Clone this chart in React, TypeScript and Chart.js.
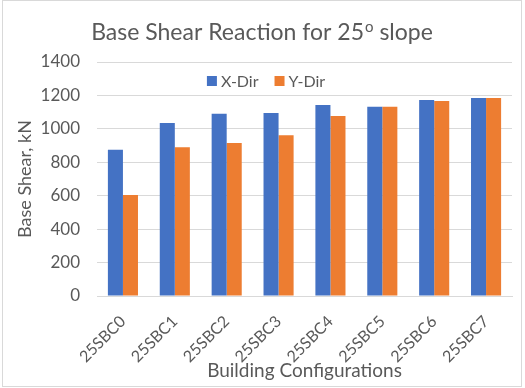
import React, { useEffect, useRef } from "react";
import { Chart, registerables } from "chart.js";

Chart.register(...registerables);

const categories = ["25SBC0", "25SBC1", "25SBC2", "25SBC3", "25SBC4", "25SBC5", "25SBC6", "25SBC7"];
const xDir = [875, 1035, 1090, 1095, 1142, 1132, 1172, 1185];
const yDir = [605, 890, 915, 962, 1077, 1132, 1167, 1185];
const seriesNames = ["X-Dir", "Y-Dir"];
const titleMain = "Base Shear Reaction for 25";
const titleSup = "o";
const titleEnd = " slope";
const yTitle = "Base Shear, kN";
const xTitle = "Building Configurations";

const BLUE = "#4472C4";
const ORANGE = "#ED7D31";
const GRID = "#D9D9D9";
const TEXT = "#595959";
const FAMILY = "Lato, 'Open Sans', sans-serif";

const framePlugin = {
  id: "frame",
  beforeDraw(chart: any) {
    const c = chart.ctx;
    c.save();
    c.fillStyle = "#ffffff";
    c.fillRect(0, 0, chart.width, chart.height);
    c.strokeStyle = GRID;
    c.lineWidth = 1;
    c.strokeRect(2.5, 0.5, chart.width - 6, chart.height - 2);
    c.restore();
  },
};

const titlePlugin = {
  id: "customTitle",
  afterDraw(chart: any) {
    const c = chart.ctx;
    c.save();
    c.fillStyle = TEXT;
    c.textBaseline = "alphabetic";
    c.textAlign = "left";
    const big = `23px ${FAMILY}`;
    const small = `15px ${FAMILY}`;
    c.font = big;
    const w1 = c.measureText(titleMain).width;
    const w3 = c.measureText(titleEnd).width;
    c.font = small;
    const w2 = c.measureText(titleSup).width;
    const total = w1 + w2 + w3 + 1;
    let x = 262 - total / 2;
    const base = 40;
    c.font = big;
    c.fillText(titleMain, x, base);
    x += w1;
    c.font = small;
    c.fillText(titleSup, x + 1, base - 8);
    x += w2 + 1;
    c.font = big;
    c.fillText(titleEnd, x, base);
    c.restore();
  },
};

const legendPlugin = {
  id: "customLegend",
  afterDraw(chart: any) {
    const c = chart.ctx;
    c.save();
    c.font = `16px ${FAMILY}`;
    c.textBaseline = "middle";
    c.textAlign = "left";
    const box = 10;
    const gapText = 4;
    const gapItem = 16;
    const widths = seriesNames.map((n) => c.measureText(n).width);
    const total = widths.reduce((a, w) => a + box + gapText + w, 0) + gapItem * (seriesNames.length - 1);
    let x = 266 - total / 2;
    const cy = 81;
    chart.data.datasets.forEach((ds: any, i: number) => {
      c.fillStyle = ds.backgroundColor;
      c.fillRect(x, cy - box / 2, box, box);
      c.fillStyle = TEXT;
      c.fillText(seriesNames[i], x + box + gapText, cy + 1);
      x += box + gapText + widths[i] + gapItem;
    });
    c.restore();
  },
};

export default function App() {
  const ref = useRef<HTMLCanvasElement>(null);
  useEffect(() => {
    document.body.style.margin = "0";
    const canvas = ref.current!;
    const chart = new Chart(canvas, {
      type: "bar",
      data: {
        labels: categories,
        datasets: [
          { label: seriesNames[0], data: xDir, backgroundColor: BLUE },
          { label: seriesNames[1], data: yDir, backgroundColor: ORANGE },
        ],
      },
      options: {
        animation: false,
        responsive: false,
        devicePixelRatio: 1,
        layout: { padding: { top: 62, right: 13, left: 0, bottom: 0 } },
        datasets: { bar: { categoryPercentage: 0.58, barPercentage: 1 } },
        plugins: {
          legend: { display: false },
          title: { display: false },
          tooltip: { enabled: false },
        },
        scales: {
          x: {
            grid: { display: false, drawTicks: false },
            border: { display: true, color: GRID },
            ticks: {
              minRotation: 45,
              maxRotation: 45,
              padding: 16,
              color: TEXT,
              font: { family: FAMILY, size: 16 },
            },
            title: {
              display: true,
              text: xTitle,
              color: TEXT,
              font: { family: FAMILY, size: 19 },
              padding: { top: 0, bottom: 6 },
            },
            afterFit: (s: any) => {
              s.height = 92;
            },
          },
          y: {
            min: 0,
            max: 1400,
            grid: { color: GRID, drawTicks: false },
            border: { display: false },
            ticks: {
              stepSize: 200,
              padding: 17,
              color: TEXT,
              font: { family: FAMILY, size: 17 },
              callback: (v: any) => String(v),
            },
            title: {
              display: true,
              text: yTitle,
              color: TEXT,
              font: { family: FAMILY, size: 18 },
              padding: { top: 14, bottom: 0 },
            },
            afterFit: (s: any) => {
              s.width = 97;
            },
          },
        },
      },
      plugins: [framePlugin, titlePlugin, legendPlugin],
    });
    return () => chart.destroy();
  }, []);
  return (
    <div style={{ position: "absolute", left: 0, top: 0, width: 525, height: 388 }}>
      <canvas ref={ref} width={525} height={388} style={{ width: 525, height: 388, display: "block" }} />
    </div>
  );
}
